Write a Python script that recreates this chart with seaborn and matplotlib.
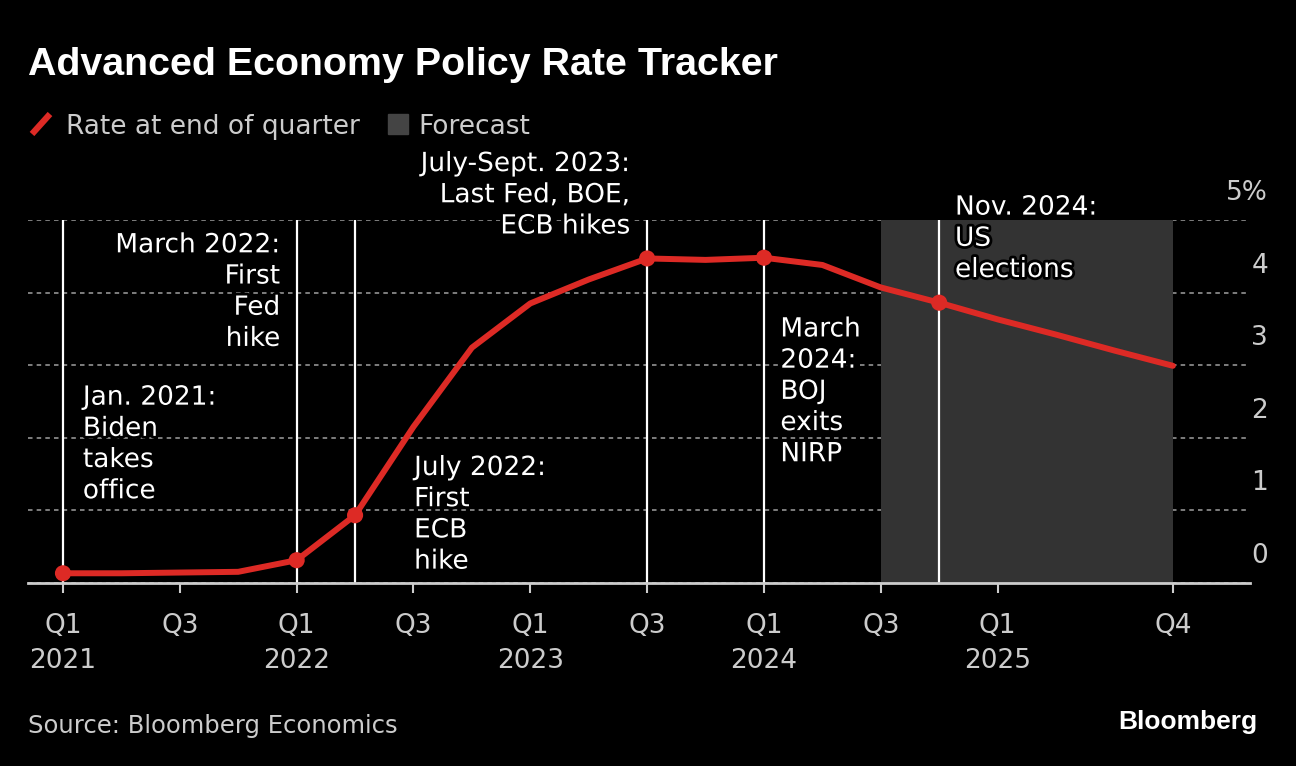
import seaborn as sns
import matplotlib.pyplot as plt
import matplotlib.patheffects as pe
import matplotlib.transforms as mtransforms
from matplotlib.lines import Line2D
from matplotlib.patches import Rectangle
import pandas as pd

# Data
quarters = [f"Q{q} {y}" for y in range(2021, 2026) for q in range(1, 5)]
rate = [0.13, 0.13, 0.14, 0.15, 0.31, 0.93, 2.15, 3.24, 3.85, 4.18,
        4.47, 4.45, 4.48, 4.38, 4.07, 3.86, 3.63, 3.42, 3.20, 2.99]
event_quarters = ["Q1 2021", "Q1 2022", "Q2 2022", "Q3 2023", "Q1 2024", "Q4 2024"]
forecast_start = "Q3 2024"
forecast_end = "Q4 2025"
tick_quarters = ["Q1 2021", "Q3 2021", "Q1 2022", "Q3 2022", "Q1 2023",
                 "Q3 2023", "Q1 2024", "Q3 2024", "Q1 2025", "Q4 2025"]
tick_labels = ["Q1\n2021", "Q3", "Q1\n2022", "Q3", "Q1\n2023",
               "Q3", "Q1\n2024", "Q3", "Q1\n2025", "Q4"]
y_ticks = [0, 1, 2, 3, 4, 5]
y_tick_labels = ["0", "1", "2", "3", "4", "5%"]

# (text, x in quarters, top y, alignment)
notes = [
    ("Jan. 2021:\nBiden\ntakes\noffice", 0.34, 2.73, "left"),
    ("March 2022:\nFirst\nFed\nhike", 3.72, 4.83, "right"),
    ("July 2022:\nFirst\nECB\nhike", 6.01, 1.76, "left"),
    ("July-Sept. 2023:\nLast Fed, BOE,\nECB hikes", 9.71, 5.95, "right"),
    ("March\n2024:\nBOJ\nexits\nNIRP", 12.28, 3.67, "left"),
    ("Nov. 2024:\nUS\nelections", 15.27, 5.35, "left"),
]

RED = "#dd2a25"
GREY_TXT = "#cccccc"

sns.set_style("dark", {"axes.facecolor": "black", "figure.facecolor": "black"})
plt.rcParams["font.family"] = ["DejaVu Sans"]

df = pd.DataFrame({"quarter": quarters, "rate": rate})
df["i"] = range(len(df))
idx = {q: i for i, q in enumerate(quarters)}
events = df[df["quarter"].isin(event_quarters)]

fig = plt.figure(figsize=(12.96, 7.66), dpi=100, facecolor="black")
ax = fig.add_axes([28 / 1296, 1 - 582.7 / 766, 1222 / 1296, 362.7 / 766])
ax.set_facecolor("black")

ax.axvspan(idx[forecast_start], idx[forecast_end], color="#333333", zorder=1, lw=0)
for q in event_quarters:
    ax.axvline(idx[q], color="white", lw=1.6, zorder=2)

sns.lineplot(data=df, x="i", y="rate", color=RED, linewidth=4.3, ax=ax, zorder=3)
sns.scatterplot(data=events, x="i", y="rate", color=RED, s=135, edgecolor="none",
                ax=ax, zorder=4)

ax.set_xlim(-0.599, 20.32)
ax.set_ylim(0, 5)
ax.set_xlabel("")
ax.set_ylabel("")

ax.set_yticks(y_ticks)
ax.set_yticklabels([])
ax.tick_params(axis="y", length=0)
ax.yaxis.grid(True, color="#888888", linestyle=(0, (2.5, 2.3)), lw=1.3, zorder=1.5)
ax.xaxis.grid(False)
ylab_tr = mtransforms.blended_transform_factory(ax.transAxes, ax.transData) + \
    mtransforms.ScaledTranslation(0, 20 / 100, fig.dpi_scale_trans)
for v, lab in zip(y_ticks, y_tick_labels):
    ax.text(1.0147, v, lab, transform=ylab_tr, ha="right", va="baseline",
            fontsize=19, color=GREY_TXT, clip_on=False)

ax.set_xticks([idx[q] for q in tick_quarters])
ax.set_xticklabels(tick_labels, fontsize=19, color=GREY_TXT, linespacing=1.42)
ax.tick_params(axis="x", length=7, width=1.5, color=GREY_TXT, pad=15, direction="out",
               bottom=True)

for s in ["top", "left", "right"]:
    ax.spines[s].set_visible(False)
ax.spines["bottom"].set_color(GREY_TXT)
ax.spines["bottom"].set_linewidth(2)
ax.spines["bottom"].set_zorder(5)

for text, x, y, ha in notes:
    t = ax.text(x, y, text, ha=ha, va="top", fontsize=19, color="white",
                linespacing=1.26, clip_on=False, zorder=6, multialignment=ha)
    t.set_path_effects([pe.withStroke(linewidth=4, foreground="black")])

# Title, legend, footer
fig.text(28 / 1296, 1 - 75 / 766, "Advanced Economy Policy Rate Tracker",
         family="Liberation Sans", weight="bold", fontsize=28.4, color="white",
         va="baseline")
fig.add_artist(Line2D([32 / 1296, 50 / 1296], [1 - 134 / 766, 1 - 114 / 766],
                      color=RED, lw=4.5, solid_capstyle="butt"))
fig.text(66 / 1296, 1 - 134 / 766, "Rate at end of quarter", fontsize=19,
         color=GREY_TXT, va="baseline")
fig.add_artist(Rectangle((388 / 1296, 1 - 134 / 766), 20 / 1296, 20 / 766,
                         color="#444444", transform=fig.transFigure))
fig.text(418 / 1296, 1 - 134 / 766, "Forecast", fontsize=19, color=GREY_TXT,
         va="baseline")
fig.text(28 / 1296, 1 - 733 / 766, "Source: Bloomberg Economics", fontsize=17.5,
         color=GREY_TXT, va="baseline")
fig.text(1257 / 1296, 1 - 729 / 766, "Bloomberg", family="Liberation Sans",
         weight="bold", fontsize=19, color="white", ha="right", va="baseline")

fig.savefig("out.png", dpi=100, facecolor="black")
